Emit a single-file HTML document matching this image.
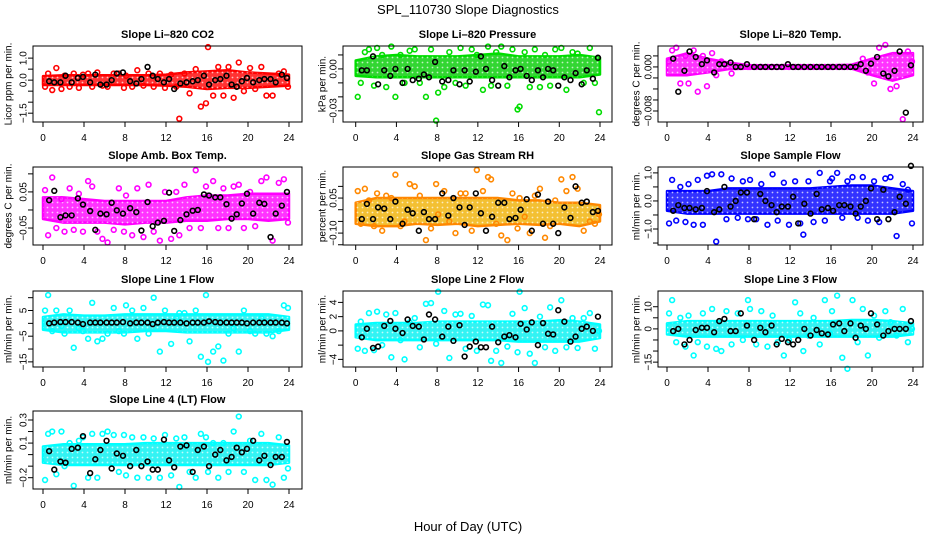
<!DOCTYPE html>
<html><head><meta charset="utf-8"><style>
body{margin:0;background:#fff}
svg{display:block;font-family:"Liberation Sans",sans-serif}
</style></head><body>
<svg id="c" width="936" height="540" viewBox="0 0 936 540" xmlns="http://www.w3.org/2000/svg">
<defs><pattern id="dots" width="5" height="5" patternUnits="userSpaceOnUse"><circle cx="2.5" cy="2.5" r="0.9" fill="#fff" fill-opacity="0.7"/></pattern></defs>
<text x="468" y="14" text-anchor="middle" font-size="13">SPL_110730  Slope Diagnostics</text>
<text x="468" y="531" text-anchor="middle" font-size="13">Hour of Day (UTC)</text>
</svg>
<script>
const xTicks=[0,4,8,12,16,20,24];
const outHours=[0.2,0.5,0.9,1.3,1.8,2.1,2.6,3.0,3.5,3.9,4.4,4.8,5.3,5.8,6.3,6.9,7.4,7.9,8.1,8.7,9.2,9.8,10.3,10.8,11.4,11.9,12.5,13.0,13.3,13.8,14.3,14.9,15.4,15.9,16.1,16.6,17.1,17.6,18.1,18.6,19.1,19.6,20.2,20.7,21.3,21.8,22.4,23.0,23.5,23.9];
const blackHours=[0.6,1.1,1.7,2.2,2.8,3.4,3.9,4.6,5.1,5.6,6.2,6.7,7.2,7.8,8.5,9.1,9.6,10.2,10.7,11.2,11.8,12.3,12.8,13.4,14.0,14.6,15.1,15.7,16.2,16.8,17.3,17.9,18.4,18.9,19.4,19.9,20.5,21.1,21.6,22.2,22.7,23.3,23.8];
const bandHours=[0,2,4,6,8,10,12,14,16,18,20,22,24];

const co2Out=[-0.3,0.3,-0.45,0.55,-0.4,0.2,-0.3,0.3,-0.35,0.25,0.3,-0.3,0.35,-0.25,-0.3,0.3,0.3,-0.35,0.2,-0.3,0.45,-0.25,0.3,-0.3,0.3,-0.35,0.25,-0.3,-1.75,0.3,-0.6,0.5,-1.2,-1.05,1.5,-0.7,0.6,-0.7,0.6,-0.8,0.8,-0.5,0.55,-0.4,0.6,-0.7,-0.7,0.3,0.4,-0.3];
const co2Lo=[-0.22,-0.22,-0.22,-0.22,-0.22,-0.22,-0.25,-0.3,-0.4,-0.35,-0.35,-0.3,-0.25];
const co2Hi=[0.18,0.22,0.22,0.22,0.22,0.22,0.25,0.35,0.4,0.45,0.35,0.3,0.25];
const co2Black=[-0.05,-0.1,-0.1,0.2,-0.1,0.1,0.15,-0.1,0.25,-0.2,-0.2,0,0.3,0.35,-0.05,-0.15,0.05,0.6,0.2,0.05,-0.1,0.05,-0.4,-0.15,-0.1,-0.05,0,0.2,-0.2,0,0.05,0.2,-0.2,-0.3,-0.05,0.1,-0.1,0,0.05,0.05,-0.1,0.25,0.1];

const presOut=[-0.02,-0.01,0.012,0.014,-0.012,0.015,0.01,-0.013,0.016,-0.02,0.01,-0.01,0.013,0.014,-0.01,-0.02,0.014,-0.037,-0.017,-0.013,0.012,-0.01,0.015,-0.012,0.014,0.01,-0.015,0.016,-0.012,0.012,0.016,-0.012,0.014,-0.029,-0.027,0.012,-0.013,0.014,-0.013,0.01,-0.012,0.014,0.015,-0.015,0.012,0.011,-0.01,0.015,-0.01,-0.031];
const presLo=[-0.005,-0.006,-0.006,-0.006,-0.006,-0.006,-0.006,-0.006,-0.006,-0.006,-0.006,-0.006,-0.004];
const presHi=[0.006,0.009,0.01,0.009,0.009,0.009,0.01,0.011,0.009,0.009,0.009,0.01,0.008];
const presBlack=[-0.001,-0.001,0.009,-0.011,-0.001,-0.005,0,-0.01,0,-0.008,-0.007,-0.004,-0.006,0.005,-0.009,-0.008,-0.001,-0.011,-0.001,-0.009,-0.002,0.009,0,-0.008,-0.012,0.002,-0.006,-0.001,0,-0.005,-0.008,-0.001,-0.006,0,-0.001,-0.012,-0.006,-0.008,-0.003,-0.011,-0.001,-0.007,0.008];

const tempOut=[0.001,0.003,0.0035,-0.003,0.002,-0.003,0.003,-0.0045,0.002,-0.0035,0.0025,-0.0015,0.001,0.0005,-0.0012,0,0,0,0,0,0,0,0,0,0,0,0,0,0,0,0,0,0,0,0,0,0,0,0,0,0.0015,-0.001,-0.003,0.0035,0.004,-0.004,-0.0035,-0.0095,0.0028,0.001];
const tempLo=[-0.0015,-0.0015,-0.001,-0.0004,-0.0003,-0.0003,-0.0003,-0.0003,-0.0003,-0.0003,-0.0015,-0.0025,-0.0015];
const tempHi=[0.0015,0.0025,0.0015,0.0008,0.0003,0.0003,0.0003,0.0003,0.0003,0.0004,0.0015,0.0025,0.0025];
const tempBlack=[0.0015,-0.0045,-0.0007,0.0028,0.0018,0.0005,0.0012,-0.001,0.0005,0.0005,0.0008,0,0,0.0005,0,0,0,0,0,0,0.0005,0,0,0,0,0,0,0,0,0,0,0,0,0.0005,-0.0007,0.0006,0.0018,-0.0012,-0.0017,-0.0007,0.0028,-0.0083,0.0003];

const ambOut=[0.055,-0.07,0.09,-0.05,0.03,-0.06,0.06,-0.055,0.045,-0.06,0.08,0.065,-0.06,-0.08,-0.09,-0.055,0.06,-0.06,0.04,-0.07,0.06,-0.075,0.07,-0.06,-0.085,0.05,-0.08,0.05,-0.07,0.07,-0.05,0.11,-0.05,0.065,0.04,0.08,-0.05,0.06,-0.05,0.065,0.07,-0.05,0.05,-0.045,0.08,0.09,-0.085,0.075,0.085,-0.035];
const ambLo=[-0.025,-0.035,-0.035,-0.035,-0.04,-0.035,-0.035,-0.03,-0.03,-0.025,-0.025,-0.03,-0.025];
const ambHi=[0.035,0.035,0.03,0.025,0.025,0.025,0.025,0.035,0.04,0.04,0.045,0.045,0.045];
const ambBlack=[0.027,0.053,-0.02,-0.015,-0.015,0.032,0.015,-0.003,-0.055,-0.01,-0.012,0.02,-0.001,-0.01,0.005,-0.006,-0.057,0.022,-0.045,-0.035,-0.03,0.048,-0.058,-0.028,-0.012,-0.002,0,0.043,0.04,0.035,0.035,0.016,-0.024,-0.012,0.018,0.045,-0.01,0.02,0.017,-0.075,-0.01,0.012,0.05];

const rhOut=[0.08,-0.06,0.09,0.04,-0.07,0.07,-0.09,0.06,0.05,0.15,-0.07,-0.05,0.11,0.1,0.06,-0.13,-0.08,0.11,-0.02,0.08,-0.05,-0.1,0.07,0.07,-0.09,0.17,0.08,0.14,0.13,-0.06,-0.11,-0.13,0.07,-0.08,0.05,-0.03,-0.1,0.06,0.09,-0.12,-0.07,0.04,0.13,0.08,0.14,0.09,-0.09,-0.05,-0.06,-0.02];
const rhLo=[-0.06,-0.07,-0.07,-0.06,-0.065,-0.06,-0.07,-0.065,-0.06,-0.065,-0.06,-0.07,-0.05];
const rhHi=[0.03,0.05,0.05,0.05,0.05,0.05,0.05,0.05,0.04,0.04,0.03,0.03,0.02];
const rhBlack=[-0.04,0.025,-0.04,0.01,0.005,-0.04,0.035,-0.06,0,-0.015,-0.09,-0.01,-0.04,-0.04,0.07,-0.025,0.05,0.01,-0.065,0.01,0.07,-0.015,-0.09,-0.03,0.03,0.03,-0.04,-0.035,0,0.045,-0.09,0.065,-0.06,0.035,-0.06,-0.1,0.01,-0.035,0.1,0.03,0.035,-0.01,-0.005];

const flowOut=[-0.8,0.75,-0.7,0.5,-0.75,0.6,-0.85,0.75,-0.85,0.9,0.95,-1.45,0.95,-0.65,0.8,-0.6,0.7,-0.65,0.75,-0.65,0.6,-0.85,0.95,-0.7,0.65,-0.85,0.7,-0.8,-1.2,0.7,-0.75,1.0,-0.7,0.7,0.8,1.0,-0.6,0.7,0.85,-0.6,0.85,-0.7,0.7,-0.75,0.8,0.85,-1.25,0.6,0.4,-0.8];
const flowLo=[-0.35,-0.45,-0.45,-0.45,-0.45,-0.45,-0.45,-0.45,-0.45,-0.45,-0.45,-0.45,-0.35];
const flowHi=[0.35,0.35,0.35,0.45,0.45,0.45,0.45,0.45,0.5,0.55,0.55,0.45,0.35];
const flowBlack=[-0.35,-0.15,-0.25,-0.25,-0.3,-0.25,0.35,-0.4,-0.3,0.5,-0.2,0,0.3,0.3,-0.65,0.25,0,-0.15,-0.4,-0.2,-0.2,0.15,-0.8,-0.1,-0.45,0.25,-0.3,-0.25,-0.35,-0.15,-0.15,-0.2,-0.45,-0.2,0,0.45,-0.65,0.4,-0.65,-0.4,0.15,-0.1,1.25];

const l1Out=[5,11,-3,5,-1,-4,5,-9.5,-2,-3,-6,8,-7,-6,-4,6,-3,-4,7,5,-6,6,-4,10,-11,5,-8,2,4,4,-7,5,-13,11,-15,-11,-9,-14.5,-4,-2,-11,5,-3,-4,2,-4,-5,-3,7,6];
const l1Lo=[-2.5,-3.5,-3.5,-3.5,-3.5,-3,-3,-3.5,-3.5,-3.5,-3.5,-3.5,-2.5];
const l1Hi=[2.5,3.5,3,3,3.5,3.5,3.5,3.5,3.5,3.5,3.5,3.5,2.5];
const l1Black=[0,0.3,0.5,0.5,0.5,0.3,-0.3,0.3,0.3,0.3,0.3,0.3,0.3,0.5,0,0.3,0.3,0.3,-0.3,0.3,0.5,0.3,0.3,0.3,0,0.3,0.3,0.3,0.8,0.5,0.3,0.3,0.3,0.3,0.3,0,0.3,0.3,0.3,0.3,0.3,0.3,0];

const l2Out=[-2.5,1.3,-2.8,2.5,-2.7,2.7,-2,2.3,-3.7,2.5,-1.3,-4,1.2,1.8,-2.3,3.8,3.9,-1.8,5.5,2.8,-3.8,2.3,2.4,-2.5,2.1,-2.8,3.7,3.6,-4.2,-2.8,-4.5,-2.2,2.4,-3,5.5,3.2,-3.2,-4.5,2,-2.3,3.3,-2.8,4.3,-2.3,1.8,-2.4,1.8,2.5,-2.5,0];
const l2Lo=[-0.9,-1.3,-1.3,-1.3,-1.3,-1.3,-1.3,-1.3,-1.5,-1.5,-1.5,-1.5,-1];
const l2Hi=[0.9,1.1,1.1,1.1,1.3,1.3,1.3,1.3,1.3,1.3,1.5,1.3,0.9];
const l2Black=[-0.9,0.3,-2.4,-2.2,0.7,1.4,0.3,-0.3,1.6,0.7,0.6,-1.2,2.3,1.6,-0.8,0.6,-1.4,0.8,-3.6,-2.2,-1.5,-2.3,-2.3,0.6,-1.6,-0.8,-0.6,-0.9,1.0,0.2,1.2,-2,1.1,-0.4,-0.5,2.9,1.3,-1.5,-0.8,0.3,0.6,0,2.0];

const l3Out=[7,13,-6,5,-8,6,-12,-6,7,-8,9,-9,-10,8,-7,7,-5,13,9,-7,8,-8,6,-6,-12,-5,12,7,-10,-3,5,-7,13,-2,8,15,-13,-18,13,-6,9,-12,6,-4,8,3,-3,9,-6,0];
const l3Lo=[-2.5,-3.5,-3.5,-3.5,-3.5,-3.5,-3.5,-3.5,-3.5,-3.5,-3.5,-3.5,-2.5];
const l3Hi=[2.5,3.5,3.5,3.5,3.5,3.5,3.5,3.5,3.5,4,4,3.5,2.5];
const l3Black=[-1,0,-7,-5,-0.5,0.5,0.5,-1.5,3.5,4.5,-1,-1,7,1.5,-5,0.5,-1.5,1.5,-7,-4.5,-6,-7,-5,0,-3,-0.5,-2,-2.5,2,2.5,-1,2.5,-4,1.5,0,7,2,-3,-1,0,0,0,3.5];

const l4Out=[-0.22,0.18,0.2,-0.17,0.2,-0.1,0.1,-0.27,0.12,0.15,-0.2,0.18,-0.2,0.18,0.2,0.17,-0.15,0.17,-0.18,0.15,-0.2,0.15,-0.2,0.14,-0.2,0.17,-0.18,0.14,-0.28,0.15,-0.15,-0.2,0.18,0.15,-0.15,0.1,-0.2,0.1,-0.15,0.2,0.33,-0.15,0.12,-0.22,0.18,-0.22,-0.26,0.15,-0.2,-0.12];
const l4Lo=[-0.07,-0.09,-0.09,-0.09,-0.09,-0.09,-0.09,-0.09,-0.09,-0.09,-0.09,-0.09,-0.07];
const l4Hi=[0.07,0.09,0.09,0.09,0.09,0.1,0.1,0.1,0.1,0.1,0.1,0.1,0.08];
const l4Black=[0.03,-0.13,-0.06,-0.07,0.05,0.06,0.16,-0.16,-0.04,0.04,0.12,-0.12,0.01,-0.01,-0.1,0.04,-0.1,-0.06,-0.13,-0.13,0.13,-0.05,-0.11,0.07,0.08,-0.15,0.04,0.07,-0.1,0,0.04,-0.05,-0.02,0.06,0.02,0.05,0.12,-0.05,-0.01,-0.09,-0.02,-0.02,0.11];

const cols=[{bx0:33,bx1:302,x0:43,x24:289,lab:9},{bx0:343,bx1:612,x0:355.7,x24:600,lab:323},{bx0:658,bx1:923,x0:667,x24:913,lab:637}];
const rows=[{top:46,bot:122},{top:167,bot:245},{top:291,bot:367},{top:411,bot:489}];
const panels=[
 {name:'co2',title:'Slope Li\u2013820 CO2',yl:'Licor ppm per min.',r:0,c:0,ymax:1.55,ymin:-1.9,ticks:[1,0.5,0,-0.5,-1,-1.5],labels:{'1':'1.0','0':'0.0','-1.5':'\u22121.5'},col:'#ff0000',band:'#ff0000',out:co2Out,lo:co2Lo,hi:co2Hi,blk:co2Black},
 {name:'pressure',title:'Slope Li\u2013820 Pressure',yl:'kPa per min.',r:0,c:1,ymax:0.0164,ymin:-0.038,ticks:[0.01,0,-0.01,-0.02,-0.03],labels:{'0':'0.00','-0.03':'\u22120.03'},col:'#00dd00',band:'#00cc00',out:presOut,lo:presLo,hi:presHi,blk:presBlack},
 {name:'temp',title:'Slope Li\u2013820 Temp.',yl:'degrees C per min.',r:0,c:2,ymax:0.0038,ymin:-0.010,ticks:[0.002,0,-0.002,-0.004,-0.006,-0.008],labels:{'0':'0.000','-0.008':'\u22120.008'},col:'#ff00ff',band:'#ff00ff',out:tempOut,lo:tempLo,hi:tempHi,blk:tempBlack},
 {name:'amb-box-temp',title:'Slope Amb. Box Temp.',yl:'degrees C per min.',r:1,c:0,ymax:0.119,ymin:-0.097,ticks:[0.1,0.05,0,-0.05],labels:{'0.05':'0.05','-0.05':'\u22120.05'},col:'#ff00ff',band:'#ff00ff',out:ambOut,lo:ambLo,hi:ambHi,blk:ambBlack},
 {name:'gas-rh',title:'Slope Gas Stream RH',yl:'percent per min.',r:1,c:1,ymax:0.183,ymin:-0.151,ticks:[0.1,0.05,0,-0.05,-0.1,-0.15],labels:{'0.05':'0.05','-0.1':'\u22120.10'},col:'#ff8800',band:'#f0b000',out:rhOut,lo:rhLo,hi:rhHi,blk:rhBlack},
 {name:'sample-flow',title:'Slope Sample Flow',yl:'ml/min per min.',r:1,c:2,ymax:1.21,ymin:-1.57,ticks:[1,0.5,0,-0.5,-1,-1.5],labels:{'1':'1.0','0':'0.0','-1':'\u22121.0'},col:'#0000ff',band:'#0000ff',out:flowOut,lo:flowLo,hi:flowHi,blk:flowBlack},
 {name:'line1-flow',title:'Slope Line 1 Flow',yl:'ml/min per min.',r:2,c:0,ymax:12.6,ymin:-17,ticks:[10,5,0,-5,-10,-15],labels:{'5':'5','-5':'\u22125','-15':'\u221215'},col:'#00ffff',band:'#00f0f0',out:l1Out,lo:l1Lo,hi:l1Hi,blk:l1Black},
 {name:'line2-flow',title:'Slope Line 2 Flow',yl:'ml/min per min.',r:2,c:1,ymax:5.6,ymin:-5.07,ticks:[4,2,0,-2,-4],labels:{'4':'4','2':'2','0':'0','-4':'\u22124'},col:'#00ffff',band:'#00f0f0',out:l2Out,lo:l2Lo,hi:l2Hi,blk:l2Black},
 {name:'line3-flow',title:'Slope Line 3 Flow',yl:'ml/min per min.',r:2,c:2,ymax:17.1,ymin:-17.2,ticks:[10,5,0,-5,-10,-15],labels:{'10':'10','0':'0','-15':'\u221215'},col:'#00ffff',band:'#00f0f0',out:l3Out,lo:l3Lo,hi:l3Hi,blk:l3Black},
 {name:'line4-flow',title:'Slope Line 4 (LT) Flow',yl:'ml/min per min.',r:3,c:0,ymax:0.378,ymin:-0.298,ticks:[0.3,0.2,0.1,0,-0.1,-0.2],labels:{'0.3':'0.3','0.1':'0.1','-0.2':'\u22120.2'},col:'#00ffff',band:'#00f0f0',out:l4Out,lo:l4Lo,hi:l4Hi,blk:l4Black}
];
const NS='http://www.w3.org/2000/svg';
const svg=document.getElementById('c');
function mk(tag,attrs,parent){const e=document.createElementNS(NS,tag);for(const k in attrs)e.setAttribute(k,attrs[k]);(parent||svg).appendChild(e);return e;}
panels.forEach(p=>{
  const C=cols[p.c],R=rows[p.r];
  const sx=h=>C.x0+(h/24)*(C.x24-C.x0);
  const sy=v=>R.top+(p.ymax-v)/(p.ymax-p.ymin)*(R.bot-R.top);
  const g=mk('g',{});
  
  
  const t=mk('text',{x:(C.bx0+C.bx1)/2,y:R.top-8,'text-anchor':'middle','font-size':'11','font-weight':'bold'},g);
  t.textContent=p.title;
  
  
  const cy=(R.top+R.bot)/2;
  const yl=mk('text',{x:C.lab,y:cy,'text-anchor':'middle','font-size':'10',transform:`rotate(-90 ${C.lab} ${cy})`,'dominant-baseline':'middle'},g);
  yl.textContent=p.yl;
  
  
  let pts=bandHours.map((h,i)=>sx(h)+','+sy(p.hi[i]));
  for(let i=bandHours.length-1;i>=0;i--)pts.push(sx(bandHours[i])+','+sy(p.lo[i]));
  const band=mk('polygon',{points:pts.join(' '),fill:p.band,'fill-opacity':'0.8',stroke:p.col,'stroke-width':'2.5','stroke-linejoin':'round'},g);
  
  
  mk('polygon',{points:pts.join(' '),fill:'url(#dots)',stroke:'none'},g);
  outHours.forEach((h,i)=>{
    const c=mk('circle',{cx:sx(h),cy:sy(p.out[i]),r:2.4,fill:'none',stroke:p.col,'stroke-width':'1.6'},g);
    
    
  });
  blackHours.forEach((h,i)=>{
    const c=mk('circle',{cx:sx(h),cy:sy(p.blk[i]),r:2.4,fill:'none',stroke:'#000','stroke-width':'1.6'},g);
    
    
  });
  const box=mk('rect',{x:C.bx0,y:R.top,width:C.bx1-C.bx0,height:R.bot-R.top,fill:'none',stroke:'#000','stroke-width':'1'},g);
  
  
  mk('line',{x1:sx(0),x2:sx(24),y1:R.bot,y2:R.bot,stroke:'#000'},g);
  xTicks.forEach(h=>{
    mk('line',{x1:sx(h),x2:sx(h),y1:R.bot,y2:R.bot+5,stroke:'#000'},g);
    const l=mk('text',{x:sx(h),y:R.bot+19,'text-anchor':'middle','font-size':'10'},g);
    l.textContent=h;
    
    
  });
  mk('line',{x1:C.bx0,x2:C.bx0,y1:sy(p.ticks[0]),y2:sy(p.ticks[p.ticks.length-1]),stroke:'#000'},g);
  p.ticks.forEach(v=>{
    const y=sy(v);
    mk('line',{x1:C.bx0-5,x2:C.bx0,y1:y,y2:y,stroke:'#000'},g);
    const s=p.labels[String(v)];
    if(s){
      const lx=C.bx0-9;
      const l=mk('text',{x:lx,y:y,'text-anchor':'middle','font-size':'10','dominant-baseline':'middle',transform:`rotate(-90 ${lx} ${y})`},g);
      l.textContent=s;
      
      
    }
  });
});
</script>
</body></html>
